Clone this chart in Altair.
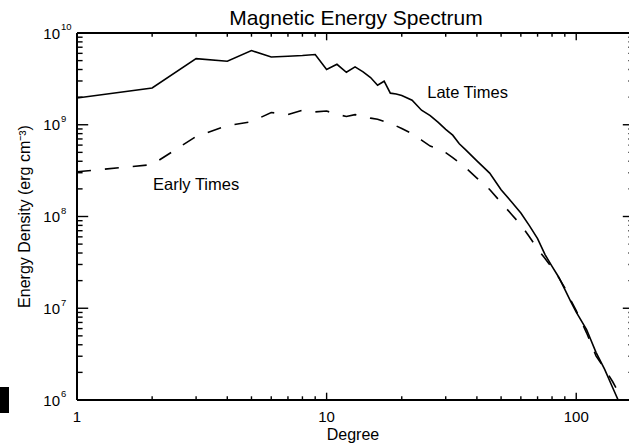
import altair as alt
import pandas as pd

# ---------------- data ----------------
degree_late = [1, 2, 3, 4, 5, 6, 7, 8, 9, 10, 11, 12, 13, 14, 15, 16, 17, 18, 19, 20,
               22, 24, 26, 28, 30, 32, 34, 36, 40, 45, 50, 55, 60, 65, 70, 75, 80, 85,
               90, 95, 100, 110, 120, 130, 140, 150]
energy_late = [1.96e9, 2.52e9, 5.26e9, 4.92e9, 6.43e9, 5.48e9, 5.57e9, 5.68e9, 5.82e9, 4.0e9,
               4.56e9, 3.73e9, 4.27e9, 3.77e9, 3.27e9, 2.70e9, 2.98e9, 2.21e9, 2.16e9, 2.08e9,
               1.85e9, 1.44e9, 1.26e9, 1.06e9, 8.9e8, 7.7e8, 6.2e8, 5.36e8, 4.04e8, 2.97e8,
               1.96e8, 1.45e8, 1.09e8, 7.9e7, 5.73e7, 3.85e7, 2.86e7, 2.19e7, 1.61e7, 1.19e7,
               9.06e6, 5.86e6, 3.31e6, 2.16e6, 1.36e6, 8.9e5]

degree_early = [1, 2, 3, 4, 5, 6, 7, 8, 9, 10, 11, 12, 13, 14, 15, 16, 17, 18, 20,
                22, 24, 26, 28, 30, 32, 34, 36, 40, 45, 50, 55, 60, 65, 70, 75, 80, 85,
                90, 95, 100, 110, 120, 130, 140, 150]
energy_early = [3.07e8, 3.68e8, 7.45e8, 9.77e8, 1.08e9, 1.36e9, 1.29e9, 1.44e9, 1.38e9, 1.41e9,
                1.30e9, 1.23e9, 1.29e9, 1.24e9, 1.18e9, 1.15e9, 1.09e9, 1.04e9, 9.1e8,
                8.0e8, 6.8e8, 5.85e8, 5.5e8, 4.97e8, 4.39e8, 3.87e8, 3.41e8, 2.62e8, 1.97e8,
                1.42e8, 1.06e8, 8.1e7, 5.98e7, 4.43e7, 3.49e7, 2.75e7, 2.17e7, 1.67e7, 1.23e7,
                9.4e6, 5.4e6, 3.03e6, 2.19e6, 1.58e6, 1.11e6]

x_major_ticks = [1, 10, 100]
x_tick_labels = ["1", "10", "100"]
x_minor_ticks = [2, 3, 4, 5, 6, 7, 8, 9, 20, 30, 40, 50, 60, 70, 80, 90]
y_major_ticks = [1e6, 1e7, 1e8, 1e9, 1e10]
y_tick_exponents = ["6", "7", "8", "9", "10"]
y_minor_ticks = [2e6, 3e6, 4e6, 5e6, 6e6, 7e6, 8e6, 9e6,
                 2e7, 3e7, 4e7, 5e7, 6e7, 7e7, 8e7, 9e7,
                 2e8, 3e8, 4e8, 5e8, 6e8, 7e8, 8e8, 9e8,
                 2e9, 3e9, 4e9, 5e9, 6e9, 7e9, 8e9, 9e9]

series_labels = ["Late Times", "Early Times"]
label_degree = [36.7, 3.0]
label_energy = [1.98e9, 1.94e8]

chart_title = "Magnetic Energy Spectrum"
x_title = "Degree"
y_title = "Energy Density (erg cm\u207b\u00b3)"

# ---------------- layout ----------------
W, H = 552, 367
XMAX = 162.7
FONT = "Liberation Sans"
xs = alt.Scale(type="log", domain=[1, XMAX], nice=False)
ys = alt.Scale(type="log", domain=[1e6, 1e10], nice=False)

late = pd.DataFrame({"deg": degree_late, "e": energy_late})
early = pd.DataFrame({"deg": degree_early, "e": energy_early})
xmaj = pd.DataFrame({"t": x_major_ticks, "lab": x_tick_labels})
xmin = pd.DataFrame({"t": x_minor_ticks})
ymaj = pd.DataFrame({"t": y_major_ticks, "ex": y_tick_exponents})
ymin = pd.DataFrame({"t": y_minor_ticks})
labs = pd.DataFrame({"deg": label_degree, "e": label_energy, "lab": series_labels})
one = pd.DataFrame({"a": [0]})

line_late = alt.Chart(late).mark_line(color="black", strokeWidth=1.6, clip=True).encode(
    x=alt.X("deg:Q", scale=xs, axis=None),
    y=alt.Y("e:Q", scale=ys, axis=None),
)
line_early = alt.Chart(early).mark_line(color="black", strokeWidth=1.6, clip=True,
                                        strokeDash=[14, 14]).encode(
    x=alt.X("deg:Q", scale=xs, axis=None),
    y=alt.Y("e:Q", scale=ys, axis=None),
)

TW = 1.4
def xticks(df, y0, y1):
    return alt.Chart(df).mark_rule(color="black", strokeWidth=TW).encode(
        x=alt.X("t:Q", scale=xs, axis=None), y=alt.value(y0), y2=alt.value(y1))

def yticks(df, x0, x1):
    return alt.Chart(df).mark_rule(color="black", strokeWidth=TW).encode(
        y=alt.Y("t:Q", scale=ys, axis=None), x=alt.value(x0), x2=alt.value(x1))

XMJ, XMN = 7.3, 3.7
YMJ, YMN = 11.2, 5.6
RX = W + 5

tick_layers = [
    xticks(xmaj, H, H - XMJ), xticks(xmin, H, H - XMN),
    xticks(xmaj, 0, XMJ), xticks(xmin, 0, XMN),
    yticks(ymaj, 0, YMJ), yticks(ymin, 0, YMN),
    yticks(ymaj, RX, RX - YMJ), yticks(ymin, RX, RX - YMN),
]

frame_left = alt.Chart(one).mark_rule(color="black", strokeWidth=2).encode(
    x=alt.value(0), y=alt.value(0), y2=alt.value(H))
frame_top = alt.Chart(one).mark_rule(color="black", strokeWidth=2).encode(
    x=alt.value(0), x2=alt.value(W), y=alt.value(0))
frame_bottom = alt.Chart(one).mark_rule(color="black", strokeWidth=2).encode(
    x=alt.value(0), x2=alt.value(W), y=alt.value(H))

x_labels = alt.Chart(xmaj).mark_text(font=FONT, fontSize=15, color="black",
                                      align="center", baseline="alphabetic").encode(
    x=alt.X("t:Q", scale=xs, axis=None), y=alt.value(H + 21.5), text="lab:N")

y_base = alt.Chart(ymaj).mark_text(font=FONT, fontSize=15, color="black", align="right",
                                    baseline="alphabetic", dy=5.5).encode(
    y=alt.Y("t:Q", scale=ys, axis=None), x=alt.value(-17), text=alt.value("10"))
y_exp = alt.Chart(ymaj).mark_text(font=FONT, fontSize=9.5, color="black", align="left",
                                   baseline="alphabetic", dy=-2.7).encode(
    y=alt.Y("t:Q", scale=ys, axis=None), x=alt.value(-16), text="ex:N")

series_text = alt.Chart(labs).mark_text(font=FONT, fontSize=16.5, color="black",
                                         align="center", baseline="alphabetic").encode(
    x=alt.X("deg:Q", scale=xs, axis=None), y=alt.Y("e:Q", scale=ys, axis=None), text="lab:N")

title_text = alt.Chart(one).mark_text(font=FONT, fontSize=21, color="black", align="center",
                                       baseline="alphabetic").encode(
    x=alt.value(279), y=alt.value(-8), text=alt.value(chart_title))
xtitle_text = alt.Chart(one).mark_text(font=FONT, fontSize=16, color="black", align="center",
                                        baseline="alphabetic").encode(
    x=alt.value(276), y=alt.value(H + 40), text=alt.value(x_title))
ytitle_text = alt.Chart(one).mark_text(font=FONT, fontSize=16, color="black", align="center",
                                        baseline="alphabetic", angle=270).encode(
    x=alt.value(-47), y=alt.value(H / 2), text=alt.value(y_title))

block = alt.Chart(one).mark_rect(color="black").encode(
    x=alt.value(-77), x2=alt.value(-68), y=alt.value(354), y2=alt.value(380))

chart = alt.layer(
    line_late, line_early, *tick_layers, frame_left, frame_top, frame_bottom,
    x_labels, y_base, y_exp, series_text, title_text, xtitle_text, ytitle_text, block,
).properties(
    width=W, height=H,
    autosize="none",
    padding={"left": 77, "top": 33, "right": 0, "bottom": 43},
    background="white",
).configure_view(stroke=None)

chart.save("out.html", embed_options={"renderer": "svg", "actions": False})
